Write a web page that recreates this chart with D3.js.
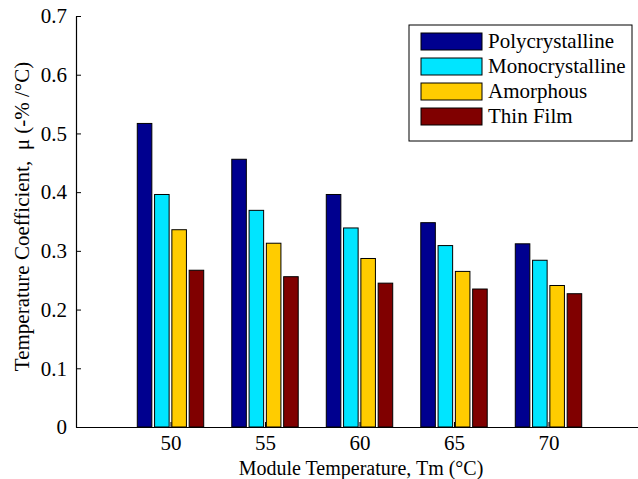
<!DOCTYPE html>
<html>
<head>
<meta charset="utf-8">
<script src="https://cdn.jsdelivr.net/npm/d3@7"></script>
<style>
    body { margin: 0; background: #fff; }
    text { font-family: "Liberation Serif", "DejaVu Serif", serif; fill: #000; }
</style>
</head>
<body>
<div id="chart"></div>
<script>
// Chart data
const temperatures = [50, 55, 60, 65, 70];
const seriesNames = ['Polycrystalline', 'Monocrystalline', 'Amorphous', 'Thin Film'];
const polyValues = [0.517, 0.456, 0.396, 0.348, 0.312];
const monoValues = [0.396, 0.369, 0.339, 0.309, 0.284];
const amorphousValues = [0.336, 0.313, 0.287, 0.265, 0.241];
const thinFilmValues = [0.267, 0.256, 0.245, 0.235, 0.227];
const yTicks = [0, 0.1, 0.2, 0.3, 0.4, 0.5, 0.6, 0.7];

const allSeries = [polyValues, monoValues, amorphousValues, thinFilmValues];
const colors = ['#00008f', '#00e5ff', '#ffcc00', '#800000'];

const width = 638;
const height = 479;
const margin = { top: 16, right: 0, bottom: 52, left: 76 };
const fontSize = '21px';

const svg = d3.select('#chart')
    .append('svg')
    .attr('width', width)
    .attr('height', height);

// Scales: x in data units so the axis runs 45..75 like the original
const x = d3.scaleLinear()
    .domain([45, 75])
    .range([margin.left, margin.left + 18.9 * 30]);

const y = d3.scaleLinear()
    .domain([0, 0.7])
    .range([height - margin.bottom, margin.top]);

// Bars
const pitch = 0.915;
const barW = 0.77;
allSeries.forEach((values, i) => {
    svg.append('g')
        .selectAll('rect')
        .data(values)
        .enter()
        .append('rect')
        .attr('x', (d, j) => x(temperatures[j] + (i - 1.5) * pitch - barW / 2))
        .attr('y', d => y(d))
        .attr('width', x(45 + barW) - x(45))
        .attr('height', d => y(0) - y(d))
        .attr('fill', colors[i])
        .attr('stroke', '#000')
        .attr('stroke-width', 1);
});

// Axes (ticks pointing inward)
const yAxis = d3.axisLeft(y)
    .tickValues(yTicks)
    .tickSizeInner(-5)
    .tickSizeOuter(0)
    .tickPadding(9)
    .tickFormat(d => d === 0 ? '0' : d3.format('.1f')(d));

svg.append('g')
    .attr('transform', `translate(${margin.left},0)`)
    .call(yAxis)
    .call(g => g.selectAll('text').style('font-size', fontSize))
    .call(g => g.select('.domain').attr('stroke-width', 1.2));

const xAxis = d3.axisBottom(x)
    .tickValues(temperatures)
    .tickSizeInner(-5)
    .tickSizeOuter(0)
    .tickPadding(8);

svg.append('g')
    .attr('transform', `translate(0,${y(0)})`)
    .call(xAxis)
    .call(g => g.selectAll('text').style('font-size', fontSize))
    .call(g => g.select('.domain').attr('stroke-width', 1.2));

// Axis titles
svg.append('text')
    .attr('x', 361)
    .attr('y', 474.5)
    .attr('text-anchor', 'middle')
    .style('font-size', '20px')
    .text('Module Temperature, Tm (°C)');

svg.append('text')
    .attr('transform', `translate(29,${(y(0) + y(0.7)) / 2 - 5}) rotate(-90)`)
    .attr('text-anchor', 'middle')
    .style('font-size', fontSize)
    .style('white-space', 'pre')
    .text('Temperature Coefficient,  μ (-% /°C)');

// Legend
const legend = svg.append('g')
    .attr('transform', 'translate(409,25)');

legend.append('rect')
    .attr('width', 223)
    .attr('height', 116)
    .attr('fill', '#fff')
    .attr('stroke', '#000')
    .attr('stroke-width', 1);

seriesNames.forEach((name, i) => {
    const row = legend.append('g')
        .attr('transform', `translate(0,${16 + i * 25})`);
    row.append('rect')
        .attr('x', 12)
        .attr('y', -8)
        .attr('width', 61)
        .attr('height', 17)
        .attr('fill', colors[i])
        .attr('stroke', '#000');
    row.append('text')
        .attr('x', 79)
        .attr('y', 7)
        .style('font-size', fontSize)
        .text(name);
});
</script>
</body>
</html>
